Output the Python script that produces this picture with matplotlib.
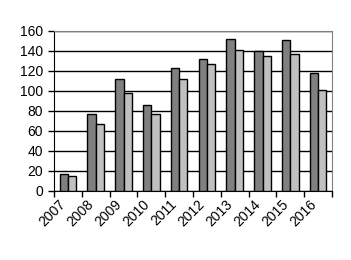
import matplotlib.pyplot as plt
import numpy as np

plt.rcParams['font.family'] = ['Liberation Sans', 'DejaVu Sans']

years = ['2007', '2008', '2009', '2010', '2011', '2012', '2013', '2014', '2015', '2016']
series_a = [17, 77, 112, 86, 123, 132, 152, 140, 151, 118]
series_b = [15, 67, 98, 77, 112, 127, 141, 135, 137, 101]

fig = plt.figure(figsize=(3.51, 2.60), dpi=100)
ax = fig.add_axes([54 / 351, 1 - 191 / 260, 278 / 351, 160 / 260])

x = np.arange(len(years))
w = 0.3
ax.bar(x - w / 2, series_a, w, color='#808080', edgecolor='black', linewidth=1, zorder=3)
ax.bar(x + w / 2, series_b, w, color='#c0c0c0', edgecolor='black', linewidth=1, zorder=3)

ax.set_xlim(-0.5, len(years) - 0.5)
ax.set_ylim(0, 160)
ax.set_yticks(range(0, 161, 20))
ax.yaxis.grid(True, color='black', linewidth=1, zorder=0)
ax.set_axisbelow(True)

ax.set_xticks(np.arange(len(years) + 1) - 0.5)
ax.set_xticklabels([])
for i, yr in enumerate(years):
    ax.text(i - 0.15, -11, yr, rotation=45, ha='right', va='center', rotation_mode='anchor',
            fontsize=10, transform=ax.transData)

ax.tick_params(axis='both', direction='out', length=4, width=1, color='black', labelsize=10)
ax.tick_params(axis='y', pad=4)
ax.spines['left'].set_color('black')
ax.spines['bottom'].set_color('black')
ax.spines['top'].set_color('#808080')
ax.spines['right'].set_color('#808080')

fig.savefig('out.png', dpi=100)
